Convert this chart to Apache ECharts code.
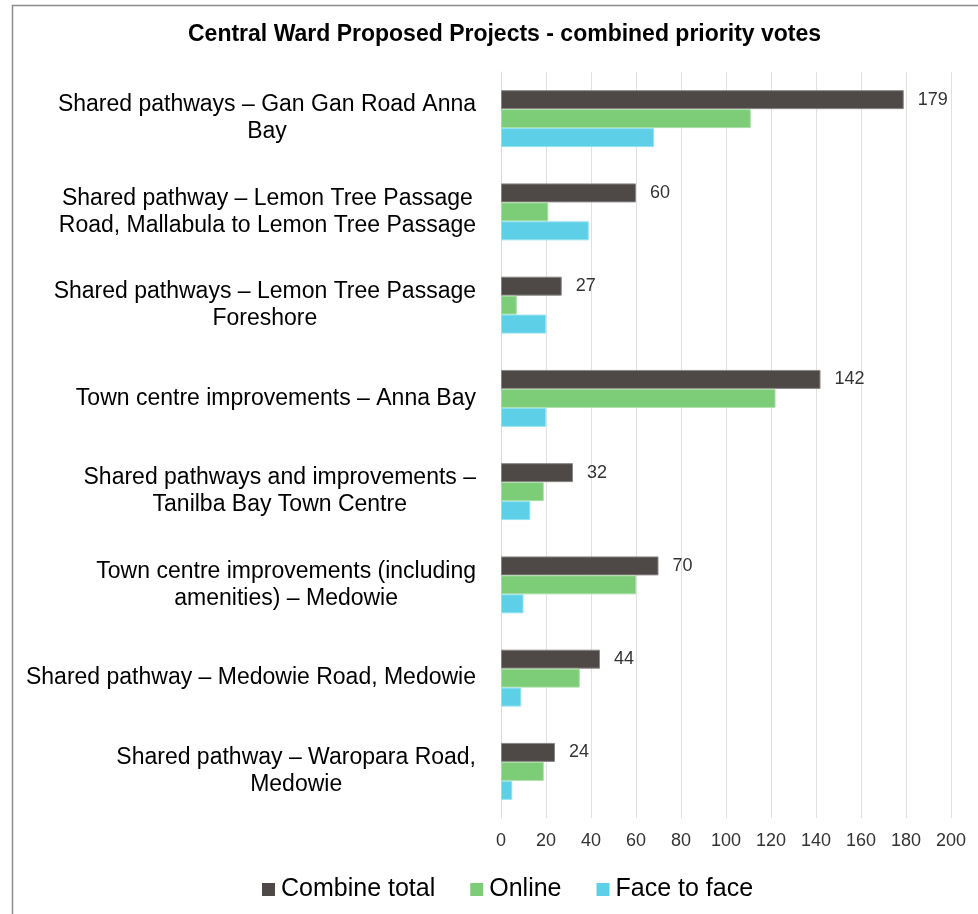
<!DOCTYPE html>
<html>
<head>
<meta charset="utf-8">
<script src="https://cdn.jsdelivr.net/npm/echarts@6/dist/echarts.min.js"></script>
<style>
html,body{margin:0;padding:0;background:#fff;}
#chart{width:978px;height:914px;}
</style>
</head>
<body>
<div id="chart"></div>
<script>
const title = 'Central Ward Proposed Projects - combined priority votes';
const categories = [
  'Shared pathways – Gan Gan Road Anna\nBay',
  'Shared pathway – Lemon Tree Passage\nRoad, Mallabula to Lemon Tree Passage',
  'Shared pathways – Lemon Tree Passage\nForeshore',
  'Town centre improvements – Anna Bay',
  'Shared pathways and improvements –\nTanilba Bay Town Centre',
  'Town centre improvements (including\namenities) – Medowie',
  'Shared pathway – Medowie Road, Medowie',
  'Shared pathway – Waropara Road,\nMedowie'
];
const seriesNames = ['Combine total', 'Online', 'Face to face'];
const combineTotal = [179, 60, 27, 142, 32, 70, 44, 24];
const online = [111, 21, 7, 122, 19, 60, 35, 19];
const faceToFace = [68, 39, 20, 20, 13, 10, 9, 5];
const xTicks = {min: 0, max: 200, interval: 20};

const FONT = '"Liberation Sans", Arial, sans-serif';
const chart = echarts.init(document.getElementById('chart'), null, {renderer: 'canvas'});
chart.setOption({
  backgroundColor: '#fff',
  animation: false,
  title: {
    text: title, left: 183, top: 18,
    textStyle: {fontFamily: FONT, fontSize: 23, fontWeight: 'bold', color: '#000'}
  },
  graphic: [{
    type: 'rect', left: 10, top: 3, z: -1,
    shape: {width: 1000, height: 1000},
    style: {fill: 'none', stroke: '#8c8c8c', lineWidth: 1.5}
  }],
  legend: {
    data: seriesNames, left: 257, top: 872, itemWidth: 13, itemHeight: 13,
    itemGap: 35, icon: 'rect',
    itemStyle: {borderWidth: 0},
    textStyle: {fontFamily: FONT, fontSize: 25, color: '#000', padding: [0, 0, 0, 1]}
  },
  grid: {left: 501, right: 27, top: 72, bottom: 96, containLabel: false},
  xAxis: {
    type: 'value', min: xTicks.min, max: xTicks.max, interval: xTicks.interval,
    axisLine: {show: false}, axisTick: {show: false},
    splitLine: {show: true, lineStyle: {color: '#e0e0e0', width: 1}},
    axisLabel: {fontFamily: FONT, fontSize: 18, color: '#333', margin: 14}
  },
  yAxis: {
    type: 'category', data: categories, inverse: true,
    axisLine: {show: true, lineStyle: {color: '#d9d9d9'}}, axisTick: {show: false},
    axisLabel: {
      fontFamily: FONT, fontSize: 23, color: '#000', margin: 25, lineHeight: 27,
      formatter: function (v) { return v.split('\n').map(s => '{c|' + s + '}').join('\n'); },
      rich: {c: {align: 'center', fontFamily: FONT, fontSize: 23, color: '#000', lineHeight: 27}}
    }
  },
  series: [
    {name: seriesNames[0], type: 'bar', data: combineTotal, barCategoryGap: '39%', barGap: '0%',
     itemStyle: {color: '#4e4946', borderColor: '#8a8685', borderWidth: 1},
     label: {show: true, position: 'right', distance: 14, fontFamily: FONT, fontSize: 18, color: '#333'}},
    {name: seriesNames[1], type: 'bar', data: online, barCategoryGap: '39%', barGap: '0%',
     itemStyle: {color: '#7dcc77', borderColor: '#a6dea2', borderWidth: 1}},
    {name: seriesNames[2], type: 'bar', data: faceToFace, barCategoryGap: '39%', barGap: '0%',
     itemStyle: {color: '#5dd0e8', borderColor: '#93e0f0', borderWidth: 1}}
  ]
});
</script>
</body>
</html>
